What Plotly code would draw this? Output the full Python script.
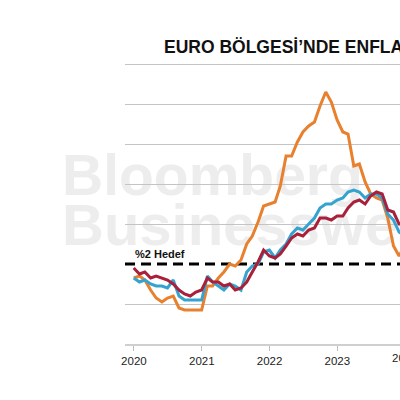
import pandas as pd
import plotly.graph_objects as go

# Monthly values, Dec 2019 .. Jan 2024 (YoY %)
start_month = "2019-12-31"
headline = [1.3,
            1.4, 1.2, 0.7, 0.3, 0.1, 0.3, 0.4, -0.2, -0.3, -0.3, -0.3, -0.3,
            0.9, 0.9, 1.3, 1.6, 2.0, 1.9, 2.2, 3.0, 3.4, 4.1, 4.9, 5.0,
            5.1, 5.9, 7.4, 7.4, 8.1, 8.6, 8.9, 9.1, 9.9, 10.6, 10.1, 9.2,
            8.6, 8.5, 6.9, 7.0, 6.1, 5.5, 5.3, 5.2, 4.3, 2.9, 2.4, 2.9,
            2.8]
core = [1.3,
        1.1, 1.2, 1.0, 0.9, 0.9, 0.8, 1.2, 0.4, 0.2, 0.2, 0.2, 0.2,
        1.4, 1.1, 0.9, 0.7, 1.0, 0.9, 0.7, 1.6, 1.9, 2.0, 2.6, 2.7,
        2.3, 2.7, 3.0, 3.5, 3.8, 3.7, 4.0, 4.3, 4.8, 5.0, 5.0, 5.2,
        5.3, 5.6, 5.7, 5.6, 5.3, 5.5, 5.5, 5.3, 4.5, 4.2, 3.6, 3.4,
        3.3]
services = [1.8,
            1.5, 1.6, 1.3, 1.4, 1.3, 1.2, 1.0, 0.7, 0.5, 0.4, 0.6, 0.7,
            1.3, 1.1, 1.1, 0.9, 1.0, 0.7, 0.8, 1.1, 1.6, 2.1, 2.7, 2.4,
            2.3, 2.5, 2.9, 3.3, 3.5, 3.4, 3.7, 3.8, 4.3, 4.3, 4.2, 4.4,
            4.4, 4.8, 5.1, 5.2, 5.0, 5.4, 5.6, 5.5, 4.7, 4.6, 4.0, 4.0,
            3.9]
target = 2
target_label = "%2 Hedef"
year_ticks = ["2020-01-01", "2021-01-01", "2022-01-01", "2023-01-01"]
year_labels = ["2020", "2021", "2022", "2023"]
cut_tick = "2024-01-01"
cut_label = "2024"
title = "EURO BÖLGESİ’NDE ENFLASYON"
x_range = ["2019-11-14", "2023-12-05"]
y_range = [-2, 12.2]
y_grid = [-2, 0, 4, 6, 8, 10, 12]

dates = pd.date_range(start_month, periods=len(headline), freq="ME")

FONT = "Arial, Liberation Sans, Helvetica, sans-serif"
ORANGE = "#E8802E"
BLUE = "#35A3D0"
RED = "#A8203A"

fig = go.Figure()
fig.add_trace(go.Scatter(x=dates, y=headline, mode="lines",
                         line=dict(color=ORANGE, width=3), hoverinfo="skip"))
fig.add_trace(go.Scatter(x=dates, y=core, mode="lines",
                         line=dict(color=BLUE, width=3), hoverinfo="skip"))
fig.add_trace(go.Scatter(x=dates, y=services, mode="lines",
                         line=dict(color=RED, width=3), hoverinfo="skip"))

fig.add_hline(y=target, line=dict(color="black", width=3, dash="10px,6px"),
              layer="below")

# Watermark (drawn below everything); paper y measured over the 284px plot height
for txt, yc, sz in [("Bloomberg", 0.613, 57), ("Businessweek", 0.437, 58)]:
    fig.add_shape(type="rect", xref="paper", yref="paper",
                  x0=-0.24, x1=-0.24, y0=yc, y1=yc, layer="below",
                  line=dict(width=0), fillcolor="rgba(0,0,0,0)",
                  label=dict(text="<b>%s</b>" % txt, textposition="middle left",
                             font=dict(family=FONT, size=sz, color="#ededed"),
                             padding=0))

fig.add_annotation(text="<b>%s</b>" % target_label, xref="paper", yref="y",
                   x=8 / 275, y=target, xanchor="left", yanchor="bottom",
                   yshift=2, showarrow=False,
                   font=dict(family=FONT, size=11, color="#111"))

r0 = pd.Timestamp(x_range[0])
r1 = pd.Timestamp(x_range[1])
frac = (pd.Timestamp(cut_tick) - r0) / (r1 - r0)
fig.add_annotation(text=cut_label, xref="paper", yref="paper", x=frac, y=0,
                   xanchor="center", yanchor="top", yshift=-6, showarrow=False,
                   font=dict(family=FONT, size=11.5, color="#222"))

fig.update_layout(
    width=400, height=400,
    margin=dict(l=125, r=0, t=60, b=56),
    paper_bgcolor="white", plot_bgcolor="rgba(0,0,0,0)",
    showlegend=False,
    title=dict(text="<b>%s</b>" % title, xref="container", yref="container",
               x=164 / 400, y=1 - 47 / 400, xanchor="left", yanchor="middle",
               font=dict(family=FONT, size=17.5, color="#111")),
    xaxis=dict(type="date", range=x_range, tickvals=year_ticks, ticktext=year_labels,
               showgrid=False, showline=True, linecolor="#cfcfcf", linewidth=2,
               ticks="outside", ticklen=5, tickcolor="#bdbdbd", tickwidth=1,
               tickfont=dict(family=FONT, size=11.5, color="#222"), zeroline=False),
    yaxis=dict(range=y_range, tickvals=y_grid, showticklabels=False,
               showgrid=True, gridcolor="#c4c4c4", gridwidth=1, zeroline=False,
               showline=False, ticks=""),
)

fig.write_html("out.html")
